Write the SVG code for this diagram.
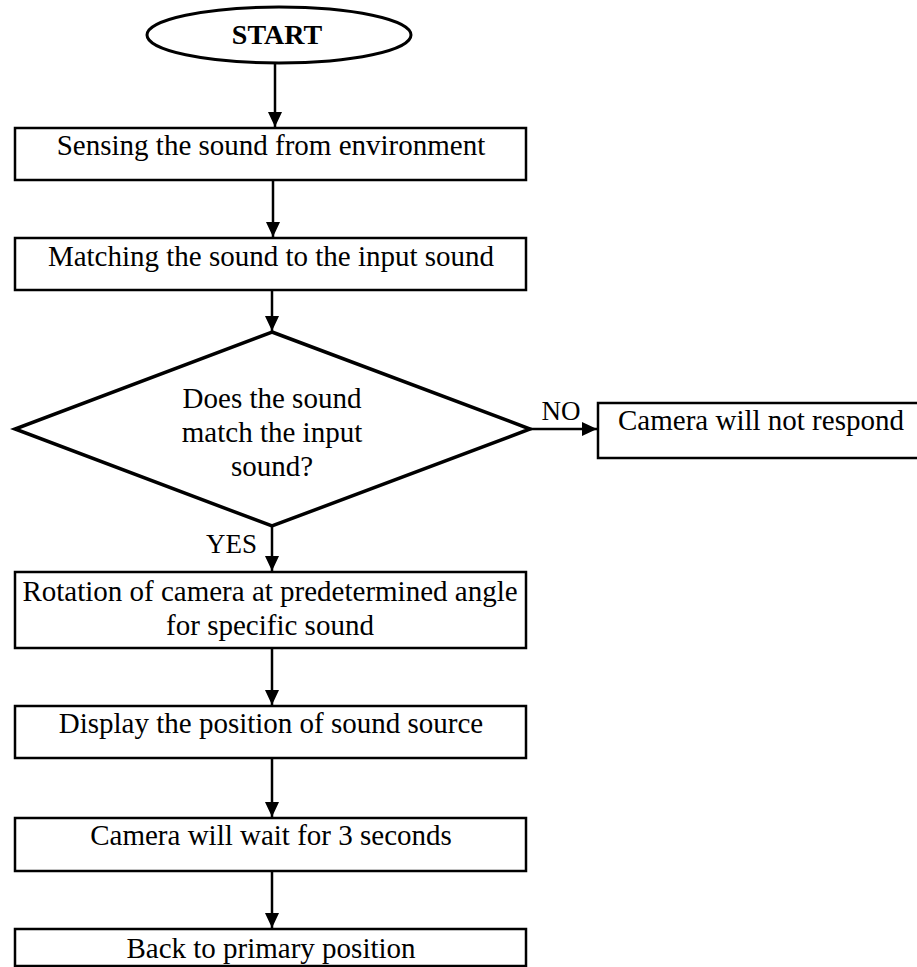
<svg xmlns="http://www.w3.org/2000/svg" width="917" height="967" viewBox="0 0 917 967">
<defs>
<marker id="ah" markerWidth="15" markerHeight="14" viewBox="0 0 15 14" refX="15" refY="7" orient="auto" markerUnits="userSpaceOnUse">
<path d="M0,0 L15,7 L0,14 Z" fill="#000"/>
</marker>
<style>
.box{fill:#fff;stroke:#000;stroke-width:2.5}
.dia{fill:#fff;stroke:#000;stroke-width:3.5}
.t{font-family:"Liberation Serif","Times New Roman",serif;font-size:29px;fill:#000;text-anchor:middle}
.c{stroke:#000;stroke-width:2.5;fill:none;marker-end:url(#ah)}
</style>
</defs>
<rect width="917" height="967" fill="#fff"/>
<g id="start">
<ellipse cx="279" cy="35" rx="132" ry="28" fill="#fff" stroke="#000" stroke-width="3"/>
<text class="t" x="277" y="44" style="font-weight:bold;font-size:28px">START</text>
</g>
<g id="sense">
<rect class="box" x="15" y="128" width="511" height="52"/>
<text class="t" x="271" y="155">Sensing the sound from environment</text>
</g>
<g id="match">
<rect class="box" x="15" y="238" width="511" height="52"/>
<text class="t" x="271" y="266">Matching the sound to the input sound</text>
</g>
<g id="decision">
<polygon class="dia" points="272,332 530,429 272,526 15,429"/>
<text class="t" x="272" y="408">Does the sound</text>
<text class="t" x="272" y="442">match the input</text>
<text class="t" x="272" y="476">sound?</text>
</g>
<g id="noresp">
<rect class="box" x="598" y="403" width="330" height="55"/>
<text class="t" x="761" y="430">Camera will not respond</text>
</g>
<g id="rotate">
<rect class="box" x="15" y="572" width="511" height="76"/>
<text class="t" x="270" y="601">Rotation of camera at predetermined angle</text>
<text class="t" x="270" y="635">for specific sound</text>
</g>
<g id="display">
<rect class="box" x="15" y="706" width="511" height="52"/>
<text class="t" x="271" y="733">Display the position of sound source</text>
</g>
<g id="wait">
<rect class="box" x="15" y="818" width="511" height="53"/>
<text class="t" x="271" y="845">Camera will wait for 3 seconds</text>
</g>
<g id="back">
<rect class="box" x="15" y="929" width="511" height="37"/>
<text class="t" x="271" y="958">Back to primary position</text>
</g>
<g id="connectors">
<line class="c" x1="275" y1="63" x2="275" y2="127"/>
<line class="c" x1="273" y1="180" x2="273" y2="237"/>
<line class="c" x1="272" y1="290" x2="272" y2="331"/>
<line class="c" x1="530" y1="429" x2="597" y2="429"/>
<text class="t" x="561" y="420" style="font-size:27px">NO</text>
<line class="c" x1="272" y1="526" x2="272" y2="571"/>
<text class="t" x="257" y="553" style="text-anchor:end;font-size:27px">YES</text>
<line class="c" x1="272" y1="648" x2="272" y2="705"/>
<line class="c" x1="272" y1="758" x2="272" y2="817"/>
<line class="c" x1="272" y1="871" x2="272" y2="928"/>
</g>
</svg>
